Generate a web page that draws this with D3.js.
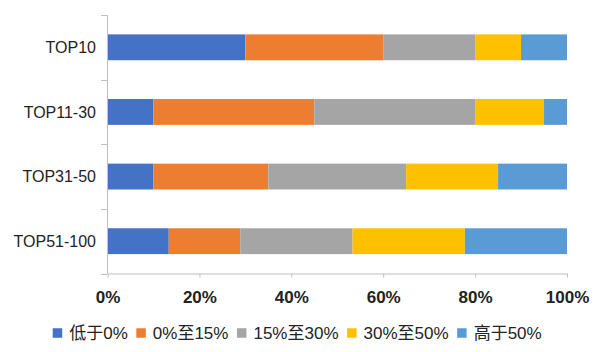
<!DOCTYPE html>
<html><head><meta charset="utf-8">
<script src="https://cdn.jsdelivr.net/npm/d3@7"></script>
<style>body{margin:0;background:#fff}svg{display:block}</style>
</head><body><svg id="c" width="600" height="352"></svg>
<script>
const categories = ["TOP10","TOP11-30","TOP31-50","TOP51-100"];
const seriesNames = ["低于0%","0%至15%","15%至30%","30%至50%","高于50%"];
const s1 = [30, 10, 10, 13.33];
const s2 = [30, 35, 25, 15.56];
const s3 = [20, 35, 30, 24.44];
const s4 = [10, 15, 20, 24.44];
const s5 = [10, 5, 15, 22.23];
const xTicks = [0, 20, 40, 60, 80, 100];
const colors = ["#4472C4","#ED7D31","#A5A5A5","#FFC000","#5B9BD5"];

const seriesVals = [s1,s2,s3,s4,s5];
const rows = categories.map((c,i)=>{const o={cat:c}; seriesNames.forEach((s,j)=>o[s]=seriesVals[j][i]); return o;});
const stack = d3.stack().keys(seriesNames)(rows);

const svg = d3.select("#c");
const font = "'Liberation Sans', Arial, 'Noto Sans CJK SC', sans-serif";
const x = d3.scaleLinear().domain([0,100]).range([107.5, 567]);
const y = d3.scaleBand().domain(categories).range([15, 273.5]).paddingInner(0.6).paddingOuter(0.3);

svg.append("g").selectAll("g").data(stack).join("g")
  .attr("fill",(d,i)=>colors[i])
  .selectAll("rect").data(d=>d).join("rect")
  .attr("x",d=>x(d[0])).attr("width",d=>x(d[1])-x(d[0]))
  .attr("y",d=>y(d.data.cat)).attr("height",y.bandwidth());

const axisColor = "#BFBFBF";
// y axis line and band ticks
const yr = y.range();
svg.append("line").attr("x1",107.5).attr("x2",107.5).attr("y1",yr[0]).attr("y2",yr[1]).attr("stroke",axisColor);
const bounds = d3.range(categories.length+1).map(i=>yr[0]+i*y.step());
svg.append("g").selectAll("line").data(bounds).join("line")
  .attr("x1",101).attr("x2",107.5).attr("y1",d=>Math.round(d)+0.5).attr("y2",d=>Math.round(d)+0.5).attr("stroke",axisColor);
svg.append("g").selectAll("text").data(categories).join("text")
  .attr("x",96).attr("y",d=>y(d)+y.bandwidth()/2).attr("dy","0.35em")
  .attr("text-anchor","end").attr("font-family",font).attr("font-size",16).attr("fill","#222")
  .text(d=>d);

// x axis
const xa = svg.append("g").attr("transform","translate(0,273.5)")
  .call(d3.axisBottom(x).tickValues(xTicks).tickFormat(d=>d+"%").tickSize(4).tickSizeOuter(0));
xa.select(".domain").attr("stroke",axisColor);
xa.selectAll(".tick line").attr("stroke",axisColor);
xa.selectAll("text").attr("font-family",font).attr("font-size",17).attr("font-weight","bold")
  .attr("fill","#222").attr("dy",0).attr("y",29);

// legend
const lg = svg.append("g");
const items = lg.selectAll("g").data(seriesNames).join("g");
items.append("rect").attr("width",9.5).attr("height",9.5).attr("y",-4.75).attr("fill",(d,i)=>colors[i]);
items.append("text").attr("x",16.5).attr("dy","0.35em").attr("font-family",font).attr("font-size",17).attr("fill","#222").text(d=>d);
const widths = items.nodes().map(n=>16.5+n.querySelector("text").getComputedTextLength());
const total = 541.7-52.7;
const gap = (total - d3.sum(widths))/(seriesNames.length-1);
let cx = 52.7;
items.each(function(d,i){ d3.select(this).attr("transform",`translate(${cx},333)`); cx += widths[i]+gap; });
</script></body></html>
